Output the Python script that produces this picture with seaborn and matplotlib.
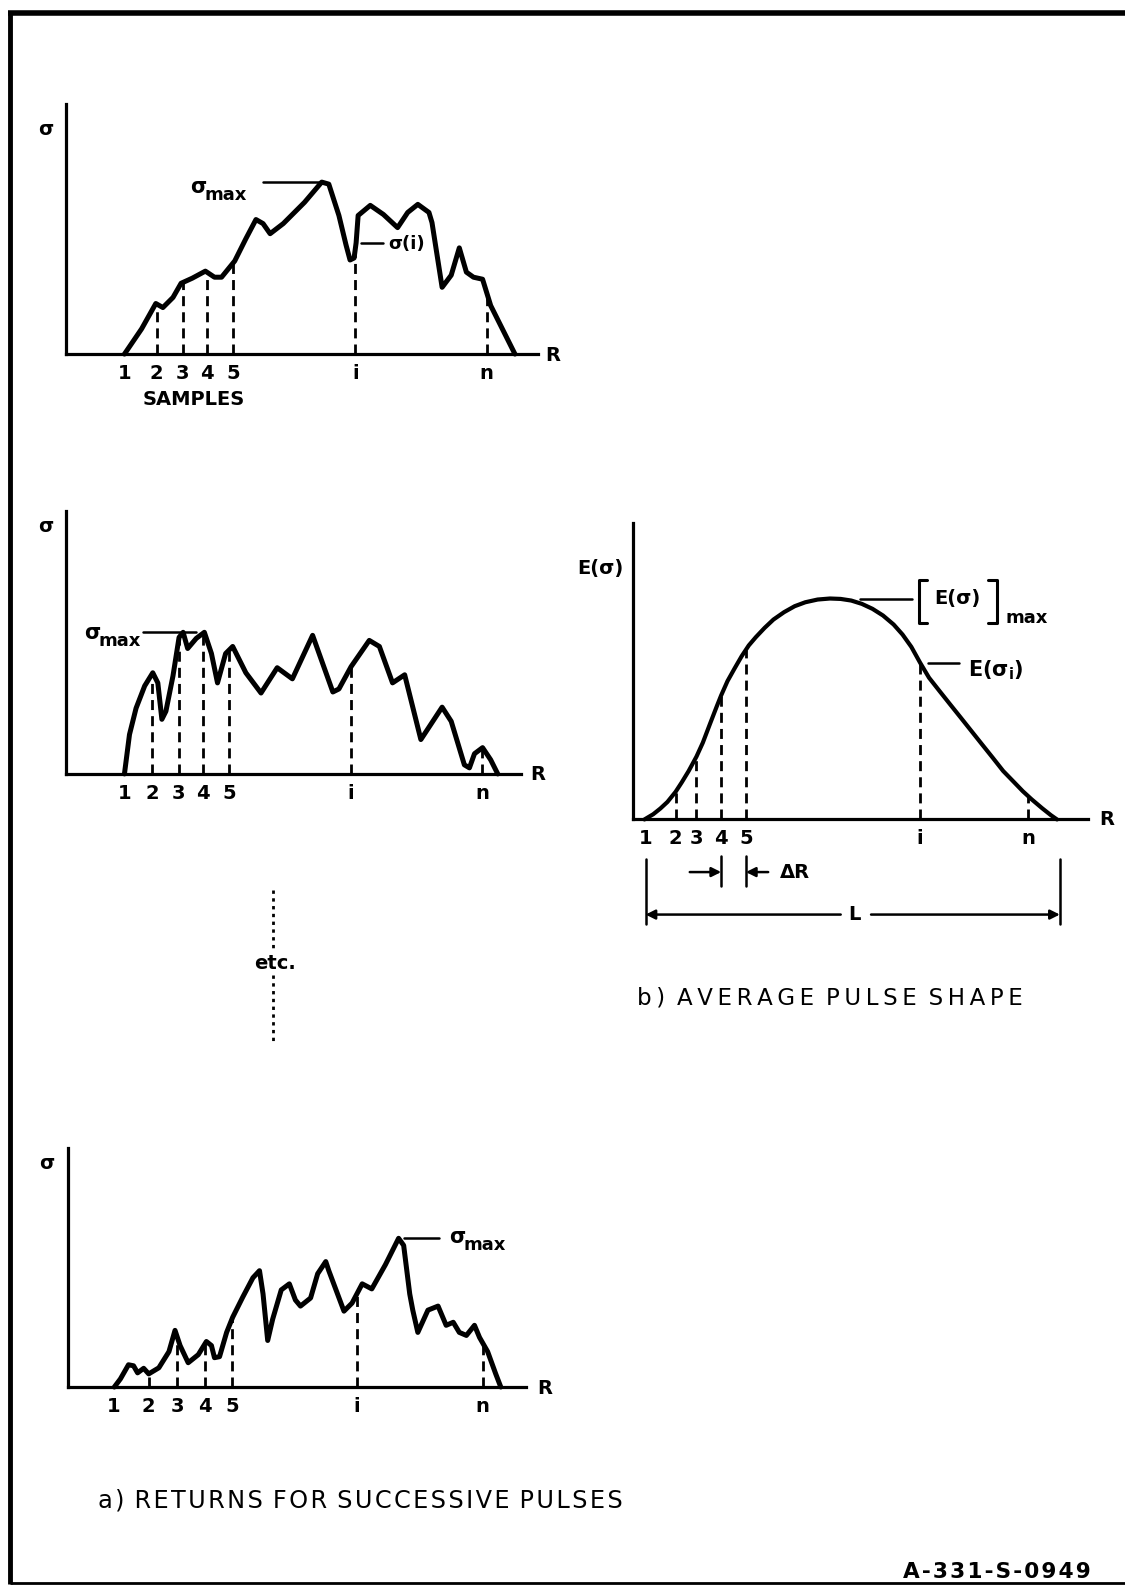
import numpy as np
import pandas as pd
import matplotlib
matplotlib.use("Agg")
import matplotlib.pyplot as plt
import seaborn as sns

# ---------------- data (R, sigma offsets from each panel's axis origin) -------------
tick_labels = ["1", "2", "3", "4", "5", "i", "n"]

# panel a-1 (top)
p1_r = [58, 75, 89, 96, 106, 114, 125, 138, 147, 154, 167, 178, 188, 195, 202, 215, 236, 253, 260, 270,
        277, 281, 285, 287, 289, 301, 314, 328, 338, 348, 359, 362, 372, 381, 389, 396, 403, 412, 420, 444]
p1_s = [0, 25, 50, 46, 56, 70, 75, 82, 76, 76, 92, 114, 133, 129, 119, 129, 150, 170, 168, 137,
        108, 93, 95, 110, 137, 147, 138, 125, 140, 148, 140, 130, 66, 78, 105, 81, 76, 74, 48, 0]
p1_samples = [58, 89.8, 115.4, 139.3, 165.6, 286.2, 416.0]

# panel a-2 (middle)
p2_r = [58, 63, 69.5, 78, 86, 91, 95, 99, 106, 112, 116, 120.5, 129, 137, 144, 150, 158, 165, 178, 193,
        209, 224, 244, 264, 270, 282, 300, 310, 323, 335, 351, 372, 381, 394, 399, 404, 412, 420, 427]
p2_s = [0, 39, 65, 87, 100, 90, 54, 62, 97, 135, 140, 124, 134, 140, 119, 90, 119, 126, 100, 80,
        105, 94, 137, 81, 84, 106, 132, 126, 90, 98, 34, 66, 52, 9, 6, 20, 26, 14, 0]
p2_samples = [57.9, 85.3, 111.6, 136.0, 161.7, 281.9, 411.9]

# panel a-3 (bottom)
p3_r = [46, 52, 60, 65, 69, 75, 80, 90, 100, 106, 111, 119, 129, 137, 142, 145, 150, 157, 163, 173,
        183, 189.5, 193, 197.6, 202.5, 211, 219, 225, 230, 240, 247, 255, 258, 273, 281, 291, 300.5, 314, 327, 332,
        338, 341, 346, 356, 366, 374, 381, 387, 394, 402, 407, 415, 423, 428]
p3_s = [0, 8, 22, 21, 14, 18.5, 13, 19, 35, 56, 41, 24, 32, 45, 41, 29, 30, 54, 69, 89,
        108, 115, 92, 46, 67, 96, 102, 86, 80, 88, 112, 124, 115, 75, 83, 102, 97, 121, 147, 140,
        92, 76, 54, 76, 80, 61, 64, 54, 51, 61, 49, 35, 13, 0]
p3_samples = [45, 80, 108.4, 135.5, 162.3, 285.8, 410.0]

# panel b (average pulse shape)
p4_r = [11, 19.7, 26.7, 33.7, 41.7, 47.7, 54.7, 62.4, 68.7, 75.6, 82.6, 86.8, 93.1, 100.1, 107.1, 114.1,
        121.1, 129.8, 138.5, 149.0, 159.5, 170.0, 182.2, 194.4, 204.9, 215.4, 225.9, 236.4, 246.8, 257.3,
        266.1, 274.8, 283.5, 292.3, 302.7, 313.2, 323.7, 334.2, 344.7, 355.2, 365.6, 376.1, 384.9, 393.6,
        404.1, 412.8, 418.8]
p4_s = [0, 5.2, 10.8, 17.3, 27.2, 36.4, 47.9, 62.1, 75.9, 94.0, 112.1, 122.6, 136.8, 149.3, 161.4, 172.0,
        180.2, 189.4, 197.6, 204.9, 210.8, 214.7, 217.4, 218.4, 218.0, 216.4, 213.1, 208.2, 201.6, 192.7,
        182.8, 170.6, 154.9, 140.1, 126.9, 113.7, 100.6, 87.4, 74.2, 61.1, 47.9, 37.1, 28.0, 20.0,
        11.1, 4.2, 0]
p4_samples = [12.1, 41.7, 62.4, 86.8, 111.3, 283.5, 390.1]
p4_L_end = 421.6

# ---------------- style -------------
sns.set_theme(style="white")
plt.rcParams["font.family"] = ["DejaVu Sans"]
plt.rcParams["text.color"] = "black"
plt.rcParams["xtick.color"] = "black"
plt.rcParams["mathtext.fontset"] = "custom"
plt.rcParams["mathtext.rm"] = "DejaVu Sans:bold"
plt.rcParams["mathtext.it"] = "DejaVu Sans:bold"
plt.rcParams["mathtext.bf"] = "DejaVu Sans:bold"

W, H = 1125, 1586
S = 1112 / 1125          # layout units used below
UW, UH = W * S, H * S
fig = plt.figure(figsize=(W / 100, H / 100), dpi=100)
fig.patch.set_facecolor("white")

bg = fig.add_axes([0, 0, 1, 1])
bg.set_xlim(0, UW)
bg.set_ylim(UH, 0)
bg.axis("off")

K = "black"
DASH = (0, (3.6, 2.2))
THIN = "\u2009"
HAIR = "\u200a"


def spaced(text, sep):
    return (" " + sep).join(sep.join(word) for word in text.split(" "))


def panel(ox, oy, w, h):
    ax = fig.add_axes([ox / UW, 1 - oy / UH, w / UW, h / UH])
    ax.set_xlim(0, w)
    ax.set_ylim(0, h)
    ax.patch.set_alpha(0)
    for s in ["top", "right"]:
        ax.spines[s].set_visible(False)
    for s in ["left", "bottom"]:
        ax.spines[s].set_linewidth(2.3)
        ax.spines[s].set_color(K)
    ax.set_yticks([])
    return ax


def draw(ax, r, s, samples, lw=3.6, pad=7.2):
    df = pd.DataFrame({"R": r, "sigma": s})
    sns.lineplot(data=df, x="R", y="sigma", sort=False, estimator=None, color=K,
                 linewidth=lw, ax=ax, clip_on=False,
                 solid_joinstyle="round", solid_capstyle="round")
    tops = np.interp(samples[1:], r, s)
    ax.vlines(samples[1:], 0, tops, colors=K, linestyles=[DASH], linewidth=2, clip_on=False)
    ax.set_xticks(samples)
    ax.set_xticklabels(tick_labels, fontsize=14, fontweight="bold")
    ax.tick_params(axis="x", length=0, pad=pad, colors=K)
    ax.set_xlabel("")
    ax.set_ylabel("")


def sigma_max(x, y):
    bg.text(x, y, "σ", fontsize=15, fontweight="bold", ha="left", va="center")
    bg.text(x + 14, y + 8, "max", fontsize=13, fontweight="bold", ha="left", va="center")


# ---- panel a-1
ax1 = panel(65, 350, 467, 247)
draw(ax1, p1_r, p1_s, p1_samples)
i1 = int(np.argmax(p1_s))
ax1.plot([195, p1_r[i1]], [max(p1_s), max(p1_s)], color=K, lw=1.8, clip_on=False)
ax1.plot([292, 314], [110, 110], color=K, lw=1.8, clip_on=False)
bg.text(384, 241, "σ(i)", fontsize=13, fontweight="bold", ha="left", va="center")
sigma_max(188, 185)
bg.text(45, 128, "σ", fontsize=14, fontweight="bold", ha="center", va="center")
bg.text(546, 351, "R", fontsize=14, fontweight="bold", ha="center", va="center")
bg.text(192, 395, "SAMPLES", fontsize=14, fontweight="bold", ha="center", va="center")

# ---- panel a-2
ax2 = panel(65, 765, 450, 260)
draw(ax2, p2_r, p2_s, p2_samples)
ax2.plot([76, 129], [max(p2_s), max(p2_s)], color=K, lw=1.8, clip_on=False)
sigma_max(83, 626)
bg.text(45, 520, "σ", fontsize=14, fontweight="bold", ha="center", va="center")
bg.text(532, 766, "R", fontsize=14, fontweight="bold", ha="center", va="center")

# ---- etc.
bg.plot([270, 270], [880, 938], color=K, lw=2, ls=(0, (1.2, 1.6)))
bg.plot([270, 270], [964, 1030], color=K, lw=2, ls=(0, (1.2, 1.6)))
bg.text(272, 952, "etc.", fontsize=14, fontweight="bold", ha="center", va="center")

# ---- panel a-3
ax3 = panel(67, 1371, 453, 236)
draw(ax3, p3_r, p3_s, p3_samples)
ax3.plot([332, 367], [max(p3_s), max(p3_s)], color=K, lw=1.8, clip_on=False)
sigma_max(444, 1223)
bg.text(46, 1150, "σ", fontsize=14, fontweight="bold", ha="center", va="center")
bg.text(538, 1372, "R", fontsize=14, fontweight="bold", ha="center", va="center")

# ---- panel b
ax4 = panel(626, 810, 449, 293)
draw(ax4, p4_r, p4_s, p4_samples, lw=3.0)
pk = max(p4_s)
ax4.plot([224, 275], [pk, pk], color=K, lw=1.8, clip_on=False)
ei = float(np.interp(p4_samples[5], p4_r, p4_s))
ax4.plot([291, 322], [ei, ei], color=K, lw=1.8, clip_on=False)
bg.plot([916, 908, 908, 916], [573, 573, 616, 616], color=K, lw=2.2)
bg.plot([977, 985, 985, 977], [573, 573, 616, 616], color=K, lw=2.2)
bg.text(946, 592, "E(σ)", fontsize=14, fontweight="bold", ha="center", va="center")
bg.text(994, 611, "max", fontsize=13, fontweight="bold", ha="left", va="center")
bg.text(957, 662, r"$\mathrm{E}(\sigma_{i})$", fontsize=15, ha="left", va="center")
bg.text(571, 562, "E(σ)", fontsize=14, fontweight="bold", ha="left", va="center")
bg.text(1094, 810, "R", fontsize=14, fontweight="bold", ha="center", va="center")

for x in [p4_samples[0], p4_L_end]:
    ax4.plot([x, x], [-39, -103], color=K, lw=1.8, clip_on=False)
for x in [p4_samples[3], p4_samples[4]]:
    ax4.plot([x, x], [-36, -66], color=K, lw=1.8, clip_on=False)
arrow = dict(arrowstyle="-|>", lw=1.8, color=K, mutation_scale=14, shrinkA=0, shrinkB=0)
ax4.annotate("", xy=(p4_samples[3], -52), xytext=(p4_samples[3] - 31, -52), arrowprops=arrow, annotation_clip=False)
ax4.annotate("", xy=(p4_samples[4], -52), xytext=(p4_samples[4] + 22, -52), arrowprops=arrow, annotation_clip=False)
bg.text(771, 862, "ΔR", fontsize=14, fontweight="bold", ha="left", va="center")
ax4.annotate("", xy=(p4_samples[0], -94), xytext=(205, -94), arrowprops=arrow, annotation_clip=False)
ax4.annotate("", xy=(p4_L_end, -94), xytext=(235, -94), arrowprops=arrow, annotation_clip=False)
bg.text(845, 904, "L", fontsize=14, fontweight="bold", ha="center", va="center")

# ---- captions
bg.text(630, 986, spaced("b) AVERAGE PULSE SHAPE", THIN), fontsize=16.5, ha="left", va="center")
bg.text(97, 1483, spaced("a) RETURNS FOR SUCCESSIVE PULSES", HAIR), fontsize=17.3, ha="left", va="center")
bg.text(893, 1554, HAIR.join("A-331-S-0949"), fontsize=15.6, fontweight="bold", ha="left", va="center")

# ---- frame
bg.plot([10, 10], [11, 1566], color=K, lw=3.5, solid_capstyle="butt")
bg.plot([8, UW], [13, 13], color=K, lw=4, solid_capstyle="butt")
bg.plot([10, UW], [1565, 1565], color=K, lw=2, solid_capstyle="butt")

fig.savefig("out.png", dpi=100)
